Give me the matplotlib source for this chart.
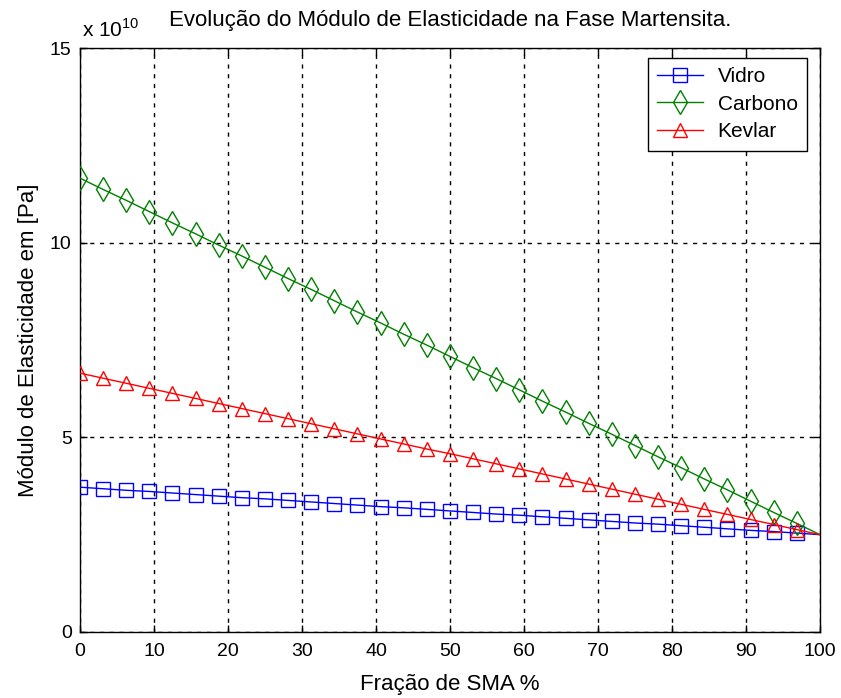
import matplotlib
matplotlib.use("Agg")
import matplotlib.pyplot as plt
from matplotlib.ticker import FixedLocator

plt.rcParams['font.family'] = ['Liberation Sans', 'DejaVu Sans']

# SMA volume fraction (%)
fracao = [0, 3.125, 6.25, 9.375, 12.5, 15.625, 18.75, 21.875, 25, 28.125,
          31.25, 34.375, 37.5, 40.625, 43.75, 46.875, 50, 53.125, 56.25,
          59.375, 62.5, 65.625, 68.75, 71.875, 75, 78.125, 81.25, 84.375,
          87.5, 90.625, 93.75, 96.875, 100]

# Elastic modulus in the martensite phase (x 1e10 Pa)
vidro = [3.72, 3.68, 3.64, 3.61, 3.57, 3.53, 3.49, 3.45, 3.42, 3.38, 3.34,
         3.30, 3.26, 3.22, 3.19, 3.15, 3.11, 3.07, 3.03, 3.00, 2.96, 2.92,
         2.88, 2.84, 2.80, 2.77, 2.73, 2.69, 2.65, 2.61, 2.58, 2.54, 2.50]
carbono = [11.66, 11.37, 11.09, 10.80, 10.51, 10.23, 9.94, 9.66, 9.37, 9.08,
           8.80, 8.51, 8.22, 7.94, 7.65, 7.37, 7.08, 6.79, 6.51, 6.22, 5.93,
           5.65, 5.36, 5.08, 4.79, 4.50, 4.22, 3.93, 3.65, 3.36, 3.07, 2.79,
           2.50]
kevlar = [6.65, 6.52, 6.39, 6.26, 6.13, 6.00, 5.87, 5.74, 5.61, 5.48, 5.35,
          5.22, 5.09, 4.96, 4.83, 4.70, 4.58, 4.45, 4.32, 4.19, 4.06, 3.93,
          3.80, 3.67, 3.54, 3.41, 3.28, 3.15, 3.02, 2.89, 2.76, 2.63, 2.50]

x_ticks = [0, 10, 20, 30, 40, 50, 60, 70, 80, 90, 100]
y_ticks = [0, 5, 10, 15]

fig = plt.figure(figsize=(8.41, 6.98), dpi=100)
ax = fig.add_axes([0.0951, 0.0946, 0.8799, 0.8364])

marks = slice(0, len(fracao) - 1)
ax.plot(fracao, vidro, color=(0, 0, 1), lw=1, marker='s', ms=10,
        mfc='none', mec=(0, 0, 1), markevery=marks, label='Vidro', zorder=3)
ax.plot(fracao, carbono, color=(0, 0.5, 0), lw=1, marker='d', ms=12,
        mfc='none', mec=(0, 0.5, 0), markevery=marks, label='Carbono', zorder=3)
ax.plot(fracao, kevlar, color=(1, 0, 0), lw=1, marker='^', ms=10,
        mfc='none', mec=(1, 0, 0), markevery=marks, label='Kevlar', zorder=3)

ax.set_xlim(0, 100)
ax.set_ylim(0, 15)
ax.xaxis.set_major_locator(FixedLocator(x_ticks))
ax.yaxis.set_major_locator(FixedLocator(y_ticks))
ax.set_xticklabels([str(t) for t in x_ticks])
ax.set_yticklabels([str(t) for t in y_ticks])
ax.tick_params(direction='in', length=5, width=1, top=True, right=True,
               labelsize=14, colors='black')
ax.tick_params(axis='x', pad=8)
ax.tick_params(axis='y', pad=6)
ax.grid(True, color='black', linestyle=(0, (3, 4)), linewidth=1)
for s in ax.spines.values():
    s.set_linewidth(1)
    s.set_color('black')

ax.set_xlabel('Fração de SMA %', fontsize=16, labelpad=10)
ax.set_ylabel('Módulo de Elasticidade em [Pa]', fontsize=16, labelpad=8)
ax.set_title('Evolução do Módulo de Elasticidade na Fase Martensita.',
             fontsize=16, pad=16)
ax.text(0.003, 1.012, r'x 10$^{\mathregular{10}}$', transform=ax.transAxes,
        fontsize=15, ha='left', va='bottom')

leg = ax.legend(loc='upper right', bbox_to_anchor=(0.9825, 0.984),
                fontsize=15, frameon=True, fancybox=False, edgecolor='black',
                framealpha=1, borderpad=0.45, handlelength=2.2,
                handletextpad=0.7, labelspacing=0.42, borderaxespad=0)
leg.get_frame().set_linewidth(1)

fig.savefig('out.png', dpi=100, facecolor='white')
